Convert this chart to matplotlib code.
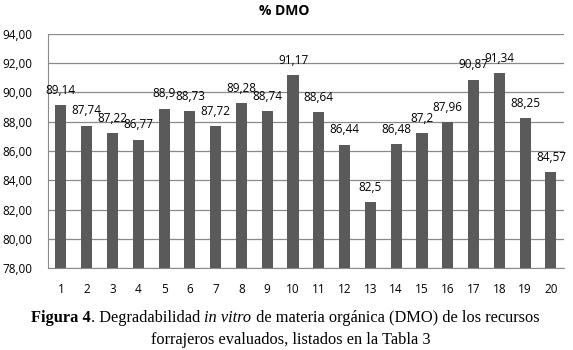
import matplotlib
matplotlib.use("Agg")
import matplotlib.pyplot as plt
import numpy as np

# data
categories = [str(i) for i in range(1, 21)]
dmo = [89.14, 87.74, 87.22, 86.77, 88.9, 88.73, 87.72, 89.28, 88.74, 91.17,
       88.64, 86.44, 82.5, 86.48, 87.2, 87.96, 90.87, 91.34, 88.25, 84.57]
yticks = [78, 80, 82, 84, 86, 88, 90, 92, 94]

def fmt(v):
    s = ("%.2f" % v).rstrip("0").rstrip(".")
    return s.replace(".", ",")

fig = plt.figure(figsize=(5.73, 3.5), dpi=100)
ax = fig.add_axes([0.0838, 0.234, 0.9002, 0.669])

x = np.arange(len(categories))
bars = ax.bar(x, dmo, width=0.43, color="#5a5a5a", zorder=3)
ax.set_xlim(-0.5, len(categories) - 0.5)
ax.set_ylim(78, 94)
ax.set_yticks(yticks)
ax.set_yticklabels([("%.2f" % t).replace(".", ",") for t in yticks],
                   fontsize=8.5, family="Open Sans")
ax.set_xticks(x)
ax.set_xticklabels(categories, fontsize=8.5, family="Open Sans")
ax.tick_params(axis="both", length=0)
ax.tick_params(axis="x", pad=11)
ax.tick_params(axis="y", pad=11)
ax.yaxis.grid(True, color="#8a8a8a", linewidth=0.9, zorder=0)
for s in ["top", "right"]:
    ax.spines[s].set_visible(False)
ax.spines["left"].set_color("#8a8a8a")
ax.spines["bottom"].set_color("#8a8a8a")

for xi, v in zip(x, dmo):
    ax.annotate(fmt(v), (xi, v), xytext=(0, 6), textcoords="offset points",
                ha="center", va="bottom", fontsize=8.5, family="Open Sans")

fig.text(0.496, 0.968, "% DMO", ha="center", va="center", fontsize=10,
         fontweight="bold", family="Open Sans")

# caption with mixed styles
def caption_line(pieces, xc, y):
    fig.canvas.draw()
    r = fig.canvas.get_renderer()
    objs = []
    for txt, kw in pieces:
        t = fig.text(0, y, txt, va="center", ha="left", fontsize=11.8,
                     family="Liberation Serif", **kw)
        objs.append(t)
    widths = [o.get_window_extent(r).width for o in objs]
    total = sum(widths)
    pos = xc * fig.bbox.width - total / 2
    for o, w in zip(objs, widths):
        o.set_x(pos / fig.bbox.width)
        pos += w

caption_line([("Figura 4", {"fontweight": "bold"}),
              (". Degradabilidad ", {}),
              ("in vitro", {"style": "italic"}),
              (" de materia orgánica (DMO) de los recursos", {})], 0.498, 1 - 318 / 350)
caption_line([("forrajeros evaluados, listados en la Tabla 3", {})], 0.507, 1 - 340 / 350)

fig.savefig("out.png", dpi=100)
